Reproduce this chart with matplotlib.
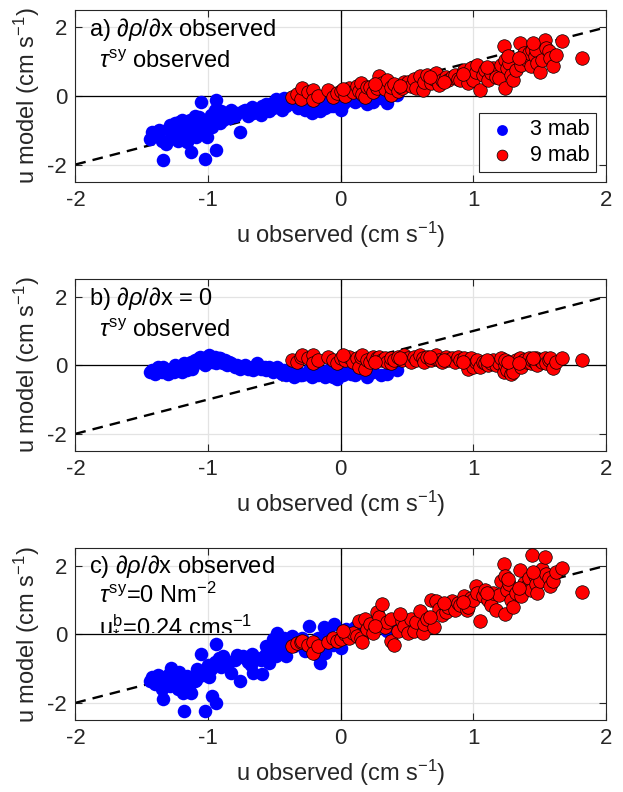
import numpy as np
import matplotlib
matplotlib.use("Agg")
import matplotlib.pyplot as plt

plt.rcParams['font.family'] = ['Liberation Sans', 'DejaVu Sans']
plt.rcParams['mathtext.fontset'] = 'custom'
plt.rcParams['mathtext.rm'] = 'Liberation Sans'
plt.rcParams['mathtext.it'] = 'Liberation Sans:italic'
plt.rcParams['axes.unicode_minus'] = False

# ---- 3 mab: observed velocity and model velocity for each experiment ----
u_obs_3 = [-1.44, -1.42, -1.40, -1.37, -1.35, -1.34, -1.32, -1.30, -1.28, -1.26,
           -1.25, -1.23, -1.22, -1.20, -1.19, -1.18, -1.16, -1.15, -1.13, -1.12,
           -1.10, -1.09, -1.07, -1.06, -1.05, -1.04, -1.02, -1.01, -1.00, -0.98,
           -0.97, -0.95, -0.94, -0.94, -0.92, -0.90, -0.89, -0.87, -0.86, -0.83,
           -0.80, -0.78, -0.76, -0.74, -0.72, -0.70, -0.67, -0.66, -0.63, -0.60,
           -0.59, -0.56, -0.54, -0.52, -0.51, -0.49, -0.48, -0.46, -0.44, -0.43,
           -0.41, -0.39, -0.37, -0.35, -0.32, -0.29, -0.27, -0.24, -0.22, -0.19,
           -0.17, -0.16, -0.13, -0.12, -0.10, -0.08, -0.05, -0.03, 0.00, 0.02,
           0.04, 0.08, 0.11, 0.16, 0.20, 0.24, 0.30, 0.35, 0.42,
           -1.38, -1.29, -1.21, -1.14, -1.08, -0.99, -0.91, -0.84, -0.68, -0.57,
           -0.47, -0.31, -0.20, -0.06]
u_mod_3_a = [-1.25, -1.05, -1.15, -1.00, -1.30, -1.88, -1.40, -0.95, -1.20, -1.00,
             -0.80, -1.30, -0.75, -0.70, -1.10, -0.90, -1.35, -0.80, -1.63, -1.00,
             -0.60, -1.20, -0.61, -0.85, -0.17, -1.00, -1.83, -1.19, -0.75, -0.55,
             -0.90, -0.40, -0.12, -1.58, -0.65, -0.45, -0.70, -0.55, -0.51, -0.40,
             -0.60, -0.51, -1.05, -0.45, -0.41, -0.60, -0.31, -0.50, -0.40, -0.55,
             -0.30, -0.25, -0.45, -0.20, -0.35, -0.10, -0.25, -0.15, -0.40, -0.05,
             -0.30, -0.20, -0.10, -0.25, -0.35, -0.15, -0.40, -0.20, -0.50, -0.30,
             -0.10, -0.45, -0.25, -0.35, -0.15, -0.30, -0.20, -0.10, -0.41, -0.25,
             -0.15, -0.05, -0.17, -0.12, -0.25, -0.17, -0.05, -0.22, 0.03,
             -1.10, -0.85, -1.05, -0.70, -0.90, -0.85, -0.80, -0.65, -0.45, -0.40,
             -0.30, -0.20, -0.35, -0.30]
u_mod_3_b = [-0.20, -0.15, -0.25, -0.10, -0.20, -0.05, -0.15, -0.25, -0.10, -0.20,
             0.00, -0.15, -0.05, -0.20, -0.10, 0.05, -0.15, -0.05, 0.10, -0.10,
             0.15, 0.05, 0.20, 0.25, 0.10, 0.20, 0.00, 0.25, 0.15, 0.20,
             0.10, 0.25, 0.15, 0.05, 0.20, 0.10, 0.05, 0.15, 0.00, 0.05,
             -0.05, 0.00, -0.10, -0.05, 0.00, -0.10, -0.05, -0.15, 0.05, -0.10,
             -0.05, -0.15, -0.05, -0.10, -0.20, -0.15, -0.05, -0.20, -0.25, -0.15,
             -0.30, -0.20, -0.25, -0.35, -0.20, -0.30, -0.25, -0.15, -0.35, -0.20,
             -0.30, -0.25, -0.20, -0.35, -0.15, -0.30, -0.25, -0.40, -0.20, -0.30,
             -0.15, -0.25, -0.30, -0.20, -0.35, -0.20, -0.30, -0.25, -0.15,
             -0.05, -0.20, -0.10, 0.00, 0.15, 0.30, 0.20, 0.10, -0.10, -0.05,
             -0.10, -0.30, -0.25, -0.35]
u_mod_3_c = [-1.35, -1.25, -1.45, -1.30, -1.60, -1.90, -1.35, -1.20, -0.98, -1.45,
             -1.25, -1.60, -1.10, -1.42, -1.70, -2.25, -1.22, -1.50, -1.71, -1.30,
             -1.35, -1.32, -1.10, -1.12, -0.59, -1.20, -2.25, -1.03, -0.90, -1.00,
             -1.81, -0.80, -0.29, -2.00, -0.70, -0.95, -0.64, -0.85, -0.93, -1.12,
             -0.75, -0.60, -1.37, -0.64, -0.70, -0.80, -0.59, -1.12, -0.70, -0.75,
             -1.17, -0.34, -0.83, -0.44, -0.15, -0.64, 0.05, -0.30, -0.50, -0.10,
             -0.64, -0.25, -0.05, -0.35, -0.20, -0.10, -0.49, 0.24, -0.30, -0.59,
             -0.10, -0.83, 0.20, -0.54, -0.20, -0.05, 0.29, -0.25, -0.39, -0.10,
             0.15, 0.05, 0.20, 0.34, 0.10, 0.24, 0.29, 0.10, 0.20,
             -1.20, -1.50, -1.30, -1.45, -1.00, -1.25, -0.90, -0.80, -0.90, -0.60,
             -0.40, -0.25, -0.40, -0.30]

# ---- 9 mab ----
u_obs_9 = [-0.37, -0.33, -0.30, -0.29, -0.25, -0.21, -0.21, -0.17, -0.10, -0.06,
           -0.03, 0.00, 0.03, 0.06, 0.09, 0.12, 0.14, 0.15, 0.16, 0.18,
           0.20, 0.22, 0.24, 0.27, 0.29, 0.31, 0.33, 0.35, 0.38, 0.38,
           0.40, 0.43, 0.46, 0.48, 0.51, 0.53, 0.55, 0.57, 0.60, 0.62,
           0.63, 0.65, 0.68, 0.70, 0.72, 0.74, 0.76, 0.79, 0.81, 0.84,
           0.86, 0.88, 0.90, 0.93, 0.95, 0.96, 0.98, 1.00, 1.02, 1.03,
           1.05, 1.07, 1.09, 1.11, 1.13, 1.15, 1.17, 1.19, 1.21, 1.23,
           1.24, 1.24, 1.25, 1.27, 1.28, 1.30, 1.32, 1.35, 1.36, 1.38,
           1.40, 1.42, 1.43, 1.44, 1.46, 1.47, 1.48, 1.50, 1.52, 1.54,
           1.55, 1.57, 1.58, 1.60, 1.62, 1.67, 1.82,
           0.02, 0.26, 0.45, 0.67, 0.78, 0.92, 1.10, 1.26, 1.34, 1.45]
u_mod_9_a = [-0.04, 0.05, -0.10, 0.22, 0.10, 0.18, -0.12, 0.00, 0.18, -0.02,
             0.08, 0.13, 0.00, 0.22, 0.10, 0.28, 0.15, 0.37, 0.05, -0.02,
             0.25, 0.27, 0.12, 0.22, 0.57, 0.37, 0.20, 0.45, 0.03, 0.27,
             0.35, 0.15, 0.22, 0.40, 0.42, 0.30, 0.50, 0.22, 0.57, 0.18,
             0.40, 0.62, 0.37, 0.50, 0.66, 0.32, 0.45, 0.55, 0.47, 0.55,
             0.62, 0.50, 0.47, 0.76, 0.60, 0.37, 0.80, 0.47, 0.70, 0.91,
             0.18, 0.62, 0.75, 0.47, 0.66, 0.81, 0.55, 0.52, 0.91, 1.45,
             0.22, 1.06, 0.81, 0.95, 0.62, 0.47, 0.75, 1.54, 0.90, 1.25,
             1.06, 1.25, 0.86, 1.35, 1.15, 1.35, 0.96, 0.71, 1.06, 1.64,
             1.40, 1.30, 1.10, 0.86, 1.20, 1.59, 1.10,
             0.20, 0.35, 0.30, 0.55, 0.40, 0.65, 0.85, 1.15, 1.10, 1.55]
u_mod_9_b = [0.15, 0.10, 0.25, 0.30, 0.20, 0.30, 0.05, 0.15, 0.25, 0.15,
             0.05, 0.20, 0.15, 0.25, 0.10, 0.20, -0.05, 0.25, 0.30, -0.10,
             0.15, 0.10, 0.25, 0.20, 0.25, 0.15, 0.20, 0.10, 0.05, 0.20,
             0.15, 0.25, 0.15, 0.30, 0.20, 0.10, 0.25, 0.15, 0.30, 0.20,
             0.10, 0.25, 0.15, 0.20, 0.30, 0.15, 0.10, 0.25, 0.15, 0.20,
             0.10, 0.25, 0.15, 0.20, 0.05, -0.10, 0.20, -0.05, 0.10, 0.15,
             -0.05, 0.10, 0.05, 0.00, 0.05, 0.15, 0.00, 0.05, 0.20, -0.20,
             0.00, 0.15, -0.15, 0.10, -0.25, -0.20, 0.15, 0.20, -0.05, 0.15,
             0.10, 0.20, 0.05, 0.15, 0.10, 0.20, 0.00, 0.15, 0.10, 0.20,
             0.05, 0.15, 0.20, -0.08, 0.10, 0.20, 0.15,
             0.30, 0.10, 0.20, 0.25, 0.15, 0.10, 0.15, 0.10, 0.05, 0.20]
u_mod_9_c = [-0.34, -0.25, -0.24, -0.20, -0.30, -0.24, -0.54, -0.35, -0.24, -0.10,
             -0.20, -0.15, 0.00, -0.10, 0.05, -0.05, 0.39, -0.10, -0.24, 0.44,
             0.15, 0.30, 0.05, 0.64, 0.49, 0.88, 0.20, 0.35, -0.20, 0.44,
             -0.30, 0.10, 0.39, 0.25, 0.05, 0.44, 0.10, 0.35, 0.68, 0.05,
             0.30, 0.44, 1.00, 0.20, 0.98, 0.75, 0.55, 0.65, 0.80, 0.98,
             0.70, 0.90, 0.85, 1.10, 0.70, 0.80, 1.05, 1.00, 1.40, 1.20,
             0.39, 1.10, 1.30, 1.00, 0.85, 1.20, 0.70, 1.15, 1.55, 2.05,
             0.59, 1.70, 1.30, 1.45, 1.00, 0.80, 1.20, 1.86, 1.10, 1.50,
             1.40, 1.65, 1.30, 2.32, 1.70, 1.45, 1.20, 1.55, 1.90, 2.25,
             1.75, 1.65, 1.40, 1.56, 1.80, 1.93, 1.22,
             0.10, 0.25, 0.60, 0.50, 0.90, 0.95, 1.20, 1.60, 1.35, 1.80]

panel_text = [
    [r"a) $\partial\rho/\partial$x observed", r"$\tau^{\rm sy}$ observed"],
    [r"b) $\partial\rho/\partial$x = 0", r"$\tau^{\rm sy}$ observed"],
    [r"c) $\partial\rho/\partial$x observed", r"$\tau^{\rm sy}$=0 Nm$^{-2}$",
     r"u$_{*}^{\rm b}$=0.24 cms$^{-1}$"],
]
# baseline heights (axes fraction) of the annotation lines in each panel
text_rows = [[0.85, 0.665], [0.85, 0.665], [0.855, 0.685, 0.525]]
model_3 = [u_mod_3_a, u_mod_3_b, u_mod_3_c]
model_9 = [u_mod_9_a, u_mod_9_b, u_mod_9_c]

fig = plt.figure(figsize=(6.23, 7.92), dpi=100)
bottoms = [0.7706, 0.4306, 0.0909]
axc = '#262626'
fs_tick = 16
fs_lab = 17
fs_txt = 17

for i in range(3):
    ax = fig.add_axes([0.121, bottoms[i], 0.852, 0.2166])
    ax.set_xlim(-2, 2)
    ax.set_ylim(-2.5, 2.5)
    ax.set_xticks([-2, -1, 0, 1, 2])
    ax.set_yticks([-2, 0, 2])
    ax.grid(True, color='#e3e3e3', linewidth=0.9, zorder=0)
    ax.set_axisbelow(True)
    ax.axhline(0, color='k', linewidth=0.9, zorder=1)
    ax.axvline(0, color='k', linewidth=0.9, zorder=1)
    ax.plot([-2, 2], [-2, 2], color='k', linestyle=(0, (4.5, 3.0)),
            linewidth=1.7, zorder=2)
    ax.scatter(u_obs_3, model_3[i], s=95, color='#0000ff', edgecolors='#0000ff',
               linewidths=0, zorder=3, label='3 mab')
    ax.scatter(u_obs_9, model_9[i], s=95, color='#ff0000', edgecolors='k',
               linewidths=0.5, zorder=4, label='9 mab')
    for sp in ax.spines.values():
        sp.set_color(axc)
        sp.set_linewidth(0.8)
    ax.tick_params(direction='in', top=True, right=True, length=5,
                   colors=axc, labelsize=fs_tick, width=0.8, pad=6)
    ax.set_xlabel(r"u observed (cm s$^{-1}$)", fontsize=fs_lab, color=axc,
                  labelpad=6)
    ax.set_ylabel(r"u model (cm s$^{-1}$)", fontsize=fs_lab, color=axc,
                  labelpad=4)
    for j, (t, yb) in enumerate(zip(panel_text[i], text_rows[i])):
        ax.text(0.025 if j == 0 else 0.045, yb, t, transform=ax.transAxes,
                fontsize=fs_txt, va='baseline', ha='left', color='k')
    if i == 0:
        leg = ax.legend(loc='lower right', fontsize=15.5, frameon=True,
                        fancybox=False, edgecolor=axc, framealpha=1,
                        markerscale=0.8, handletextpad=0.5,
                        borderpad=0.3, labelspacing=0.2,
                        handlelength=1.6, borderaxespad=0.45)
        leg.get_frame().set_linewidth(0.8)

fig.savefig("out.png", dpi=100)
